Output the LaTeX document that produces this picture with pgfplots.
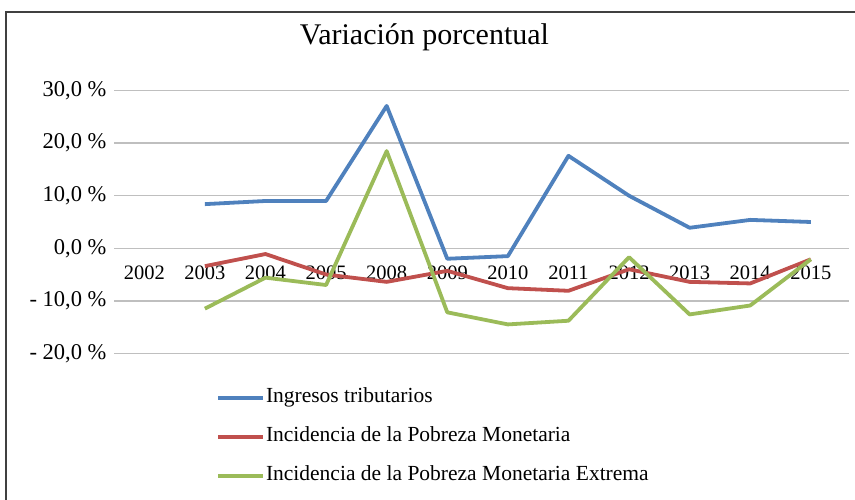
\documentclass[border=0pt]{standalone}
\usepackage{fontspec}
\setmainfont{Liberation Serif}
\usepackage{pgfplots}
\pgfplotsset{compat=1.18}
\definecolor{cblue}{RGB}{79,129,189}
\definecolor{cred}{RGB}{192,80,77}
\definecolor{cgreen}{RGB}{155,187,89}
\definecolor{cgrid}{RGB}{191,191,191}
\begin{document}
\begin{tikzpicture}[x=1bp,y=1bp]
\useasboundingbox (0,0) rectangle (855,500);
\draw[line width=1.5bp, draw={rgb,255:red,64;green,64;blue,64}] (6,0) -- (6,488) -- (855,488);
\node[anchor=base, font=\fontsize{30bp}{34bp}\selectfont, inner sep=0pt] at (424.5,455) {Variación porcentual};
\begin{axis}[
  at={(114bp,146.7bp)}, anchor=south west,
  scale only axis, width=735bp, height=262.6bp,
  xmin=-0.5, xmax=11.63, ymin=-20, ymax=30,
  axis line style={draw=none},
  major tick length=0pt,
  ymajorgrids, grid style={cgrid, line width=1.5bp},
  ytick={-20,-10,0,10,20,30},
  yticklabels={- 20{,}0 \%, - 10{,}0 \%, 0{,}0 \%, 10{,}0 \%, 20{,}0 \%, 30{,}0 \%},
  xtick={0,...,11},
  xticklabels={2002,2003,2004,2005,2008,2009,2010,2011,2012,2013,2014,2015},
  xticklabel style={font=\fontsize{20.5bp}{24bp}\selectfont, anchor=base, yshift=73.3bp},
  yticklabel style={font=\fontsize{22.5bp}{24bp}\selectfont, anchor=east, xshift=-4bp},
  legend style={at={(0.1388,-0.130)}, anchor=north west, draw=none, fill=none,
    inner sep=0pt, font=\fontsize{21.5bp}{24bp}\selectfont,
    nodes={inner sep=1bp, text height=14bp, text depth=5bp},
    row sep=18bp},
  legend cell align=left,
  legend image code/.code={\draw[#1] (0bp,0bp) -- (45bp,0bp);},
  every axis plot/.append style={line width=3.8bp, line join=round},
]
\addplot[cblue] coordinates {(1,8.4) (2,9.0) (3,9.0) (4,27.1) (5,-2.0) (6,-1.5) (7,17.6) (8,10.0) (9,3.9) (10,5.4) (11,5.0)};
\addlegendentry{Ingresos tributarios}
\addplot[cred] coordinates {(1,-3.4) (2,-1.1) (3,-5.0) (4,-6.4) (5,-4.3) (6,-7.6) (7,-8.1) (8,-4.0) (9,-6.4) (10,-6.7) (11,-2.1)};
\addlegendentry{Incidencia de la Pobreza Monetaria}
\addplot[cgreen] coordinates {(1,-11.5) (2,-5.6) (3,-7.0) (4,18.5) (5,-12.2) (6,-14.5) (7,-13.8) (8,-1.7) (9,-12.6) (10,-10.9) (11,-2.1)};
\addlegendentry{Incidencia de la Pobreza Monetaria Extrema}
\end{axis}
\end{tikzpicture}
\end{document}
